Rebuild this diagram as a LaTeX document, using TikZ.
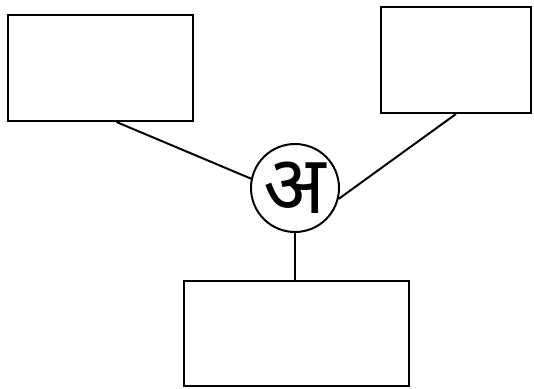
\documentclass[tikz,border=0pt]{standalone}
\usepackage{fontspec}
\newfontfamily\devfont[Script=Devanagari]{Noto Sans}
\begin{document}
\begin{tikzpicture}[line width=1.4pt,
  blankbox/.style={draw, minimum height=2.65cm},
  hubnode/.style={draw, circle, minimum size=2.2cm, inner sep=0pt, font=\devfont\fontsize{58}{58}\selectfont}]
\useasboundingbox (0,0) rectangle (13.35,-9.725);
\node[blankbox, minimum width=4.625cm] (lbox) at (2.51,-1.7) {};
\node[blankbox, minimum width=3.75cm] (rbox) at (11.4,-1.5) {};
\node[blankbox, minimum width=5.625cm, minimum height=2.625cm] (bbox) at (7.41,-8.34) {};
\node[hubnode] (hub) at (7.375,-4.7) {};
\node[font=\devfont\fontsize{58}{58}\selectfont, inner sep=0pt] (hubtext) at (hub.center) {अ};
\draw ([xshift=0.4cm]lbox.south) -- (hub.168);
\draw (rbox.south) -- (hub.-14);
\draw (hub.south) -- (hub.south |- bbox.north);
\end{tikzpicture}
\end{document}
